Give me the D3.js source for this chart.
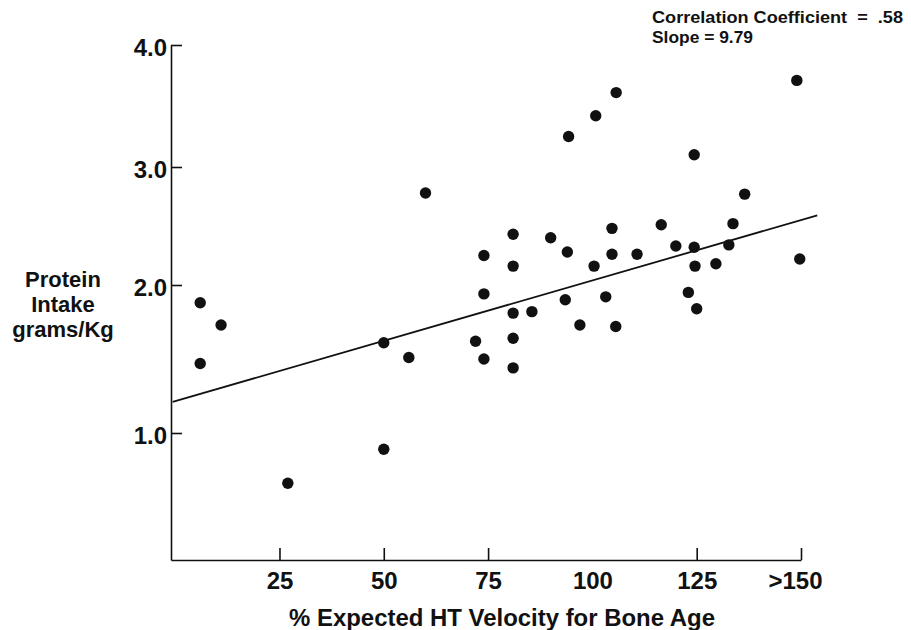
<!DOCTYPE html>
<html>
<head>
<meta charset="utf-8">
<script src="https://cdn.jsdelivr.net/npm/d3@7"></script>
<style>
  body { margin: 0; background: #fff; }
  svg { display: block; font-family: "Liberation Sans", Arial, sans-serif; font-weight: bold; }
</style>
</head>
<body>
<script>
// values
const velocity = [6, 11, 6, 27, 50, 50, 56, 60, 72, 74,
                  74, 74, 81, 81, 81, 81, 81, 85.5, 90, 94,
                  93.5, 94.3, 97, 100.4, 100.8, 103.2, 104.7, 104.7, 105.6, 105.7,
                  110.7, 116.5, 120, 123, 124.4, 124.4, 124.6, 125, 129.6, 132.7,
                  133.7, 136.5, 149, 149.7];
const protein = [1.88, 1.73, 1.47, 0.66, 1.61, 0.89, 1.51, 2.78, 1.62, 2.25,
                 1.94, 1.50, 2.43, 2.16, 1.81, 1.64, 1.44, 1.82, 2.40, 2.28,
                 1.90, 3.25, 1.73, 2.16, 3.42, 1.92, 2.48, 2.26, 1.72, 3.61,
                 2.26, 2.51, 2.33, 1.95, 3.10, 2.32, 2.16, 1.84, 2.18, 2.34,
                 2.52, 2.77, 3.71, 2.22];

// regression line ends
const fitX = [-0.6, 153.9];
const fitY = [1.21, 2.59];

// ticks
const xTicks = [25, 50, 75, 100, 125, 150];
const xTickLabels = ["25", "50", "75", "100", "125", ">150"];
const yTicks = [1, 2, 3, 4];
const yTickLabels = ["1.0", "2.0", "3.0", "4.0"];

const width = 911, height = 630;

const svg = d3.select("body").append("svg")
    .attr("width", width)
    .attr("height", height);

// scales (the original y axis is unevenly spaced, so use a piecewise scale)
const x = d3.scaleLinear()
    .domain([-1, 150])
    .range([171, 801]);

const y = d3.scaleLinear()
    .domain([0.14, 1, 2, 3, 4])
    .range([560, 433, 285, 167, 45]);

// x axis
const xAxis = svg.append("g")
    .attr("transform", `translate(0,${y(0.14)})`)
    .call(d3.axisBottom(x)
      .tickValues(xTicks)
      .tickSizeInner(-12)
      .tickSizeOuter(0)
      .tickPadding(12)
      .tickFormat((d, i) => xTickLabels[i]));

// no tick mark at 100 in the original
xAxis.selectAll(".tick").filter(d => d === 100).select("line").remove();

xAxis.selectAll(".tick text")
    .attr("dx", d => d === 150 ? -6 : 0);

// y axis
const yAxis = svg.append("g")
    .attr("transform", `translate(${x(-1)},0)`)
    .call(d3.axisLeft(y)
      .tickValues(yTicks)
      .tickSizeInner(-11)
      .tickSizeOuter(0)
      .tickPadding(4)
      .tickFormat((d, i) => yTickLabels[i]));

yAxis.selectAll(".tick text").attr("dy", "0.45em");

svg.selectAll(".domain, .tick line")
    .attr("stroke", "#111")
    .attr("stroke-width", 1.6);

svg.selectAll(".tick text")
    .attr("fill", "#111")
    .style("font-size", "24px")
    .style("font-family", "'Liberation Sans', Arial, sans-serif")
    .style("font-weight", "bold");

// regression line
svg.append("path")
    .datum(fitX.map((v, i) => [v, fitY[i]]))
    .attr("fill", "none")
    .attr("stroke", "#111")
    .attr("stroke-width", 1.8)
    .attr("d", d3.line().x(d => x(d[0])).y(d => y(d[1])));

// points
svg.append("g")
  .selectAll("circle")
  .data(velocity.map((v, i) => [v, protein[i]]))
  .join("circle")
    .attr("cx", d => x(d[0]))
    .attr("cy", d => y(d[1]))
    .attr("r", 5.7)
    .attr("fill", "#111");

// y axis title
svg.append("text")
    .attr("text-anchor", "middle")
    .style("font-size", "22px")
    .attr("fill", "#111")
  .selectAll("tspan")
  .data(["Protein", "Intake", "grams/Kg"])
  .join("tspan")
    .attr("x", 63)
    .attr("y", (d, i) => 287 + i * 25)
    .text(d => d);

// x axis title
svg.append("text")
    .attr("x", 502)
    .attr("y", 626)
    .attr("text-anchor", "middle")
    .attr("textLength", 426)
    .attr("lengthAdjust", "spacingAndGlyphs")
    .style("font-size", "24px")
    .attr("fill", "#111")
    .text("% Expected HT Velocity for Bone Age");

// stats note
svg.append("text")
    .attr("x", 652)
    .attr("y", 23)
    .attr("textLength", 251)
    .attr("lengthAdjust", "spacingAndGlyphs")
    .style("font-size", "17px")
    .style("white-space", "pre")
    .attr("fill", "#111")
    .text("Correlation Coefficient  =  .58");

svg.append("text")
    .attr("x", 652)
    .attr("y", 43)
    .attr("textLength", 101)
    .attr("lengthAdjust", "spacingAndGlyphs")
    .style("font-size", "17px")
    .attr("fill", "#111")
    .text("Slope = 9.79");
</script>
</body>
</html>
